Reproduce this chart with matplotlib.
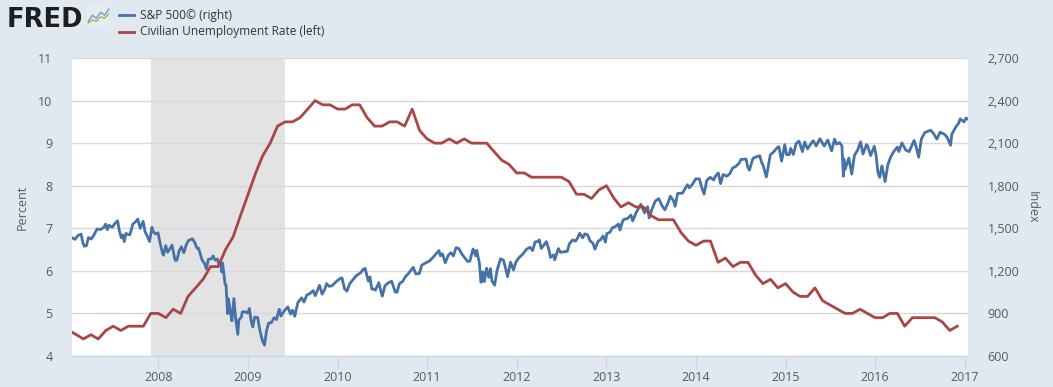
import matplotlib
matplotlib.use("Agg")
import matplotlib.pyplot as plt
import pandas as pd

plt.rcParams['font.family'] = ['Open Sans', 'DejaVu Sans']

# ---------------- data ----------------
unrate_start = "2007-01-01"
unrate_values = [
    4.6, 4.5, 4.4, 4.5, 4.4, 4.6, 4.7, 4.6, 4.7, 4.7, 4.7, 5.0,   # 2007
    5.0, 4.9, 5.1, 5.0, 5.4, 5.6, 5.8, 6.1, 6.1, 6.5, 6.8, 7.3,   # 2008
    7.8, 8.3, 8.7, 9.0, 9.4, 9.5, 9.5, 9.6, 9.8, 10.0, 9.9, 9.9,  # 2009
    9.8, 9.8, 9.9, 9.9, 9.6, 9.4, 9.4, 9.5, 9.5, 9.4, 9.8, 9.3,   # 2010
    9.1, 9.0, 9.0, 9.1, 9.0, 9.1, 9.0, 9.0, 9.0, 8.8, 8.6, 8.5,   # 2011
    8.3, 8.3, 8.2, 8.2, 8.2, 8.2, 8.2, 8.1, 7.8, 7.8, 7.7, 7.9,   # 2012
    8.0, 7.7, 7.5, 7.6, 7.5, 7.5, 7.3, 7.2, 7.2, 7.2, 6.9, 6.7,   # 2013
    6.6, 6.7, 6.7, 6.2, 6.3, 6.1, 6.2, 6.2, 5.9, 5.7, 5.8, 5.6,   # 2014
    5.7, 5.5, 5.4, 5.4, 5.6, 5.3, 5.2, 5.1, 5.0, 5.0, 5.1, 5.0,   # 2015
    4.9, 4.9, 5.0, 5.0, 4.7, 4.9, 4.9, 4.9, 4.9, 4.8, 4.6, 4.7,   # 2016
]

sp_dates = [
    # 2007
    "2007-01-16", "2007-01-26", "2007-02-08", "2007-02-20", "2007-02-27", "2007-03-05", "2007-03-14",
    "2007-03-22", "2007-04-02", "2007-04-12", "2007-04-26", "2007-05-10", "2007-05-24", "2007-05-31",
    "2007-06-07", "2007-06-14", "2007-06-27", "2007-07-06", "2007-07-19", "2007-07-26", "2007-08-03",
    "2007-08-09", "2007-08-15", "2007-08-22", "2007-08-30", "2007-09-07", "2007-09-19", "2007-10-01",
    "2007-10-09", "2007-10-19", "2007-10-31", "2007-11-08", "2007-11-15", "2007-11-26", "2007-12-06",
    "2007-12-11", "2007-12-20", "2007-12-31",
    # 2008
    "2008-01-02", "2008-01-09", "2008-01-18", "2008-01-22", "2008-01-31", "2008-02-08", "2008-02-14",
    "2008-02-26", "2008-03-07", "2008-03-10", "2008-03-17", "2008-03-26", "2008-04-04", "2008-04-14",
    "2008-04-23", "2008-05-02", "2008-05-19", "2008-05-29", "2008-06-06", "2008-06-13", "2008-06-27",
    "2008-07-07", "2008-07-15", "2008-07-23", "2008-08-05", "2008-08-11", "2008-08-20", "2008-08-29",
    "2008-09-05", "2008-09-12", "2008-09-15", "2008-09-19", "2008-09-29", "2008-10-03", "2008-10-09",
    "2008-10-10", "2008-10-13", "2008-10-22", "2008-10-27", "2008-11-04", "2008-11-12", "2008-11-20",
    "2008-11-24", "2008-12-05", "2008-12-08", "2008-12-16", "2008-12-31",
    # 2009
    "2009-01-06", "2009-01-14", "2009-01-20", "2009-01-28", "2009-02-09", "2009-02-17", "2009-02-23",
    "2009-03-02", "2009-03-09", "2009-03-17", "2009-03-26", "2009-04-06", "2009-04-17", "2009-04-27",
    "2009-05-04", "2009-05-08", "2009-05-15", "2009-05-29", "2009-06-12", "2009-06-23", "2009-07-01",
    "2009-07-10", "2009-07-23", "2009-08-07", "2009-08-17", "2009-08-28", "2009-09-11", "2009-09-23",
    "2009-10-02", "2009-10-19", "2009-10-30", "2009-11-09", "2009-11-17", "2009-11-27", "2009-12-09",
    "2009-12-28",
    # 2010
    "2010-01-11", "2010-01-19", "2010-01-29", "2010-02-08", "2010-02-19", "2010-03-05", "2010-03-18",
    "2010-04-05", "2010-04-15", "2010-04-23", "2010-05-06", "2010-05-13", "2010-05-20", "2010-05-25",
    "2010-06-04", "2010-06-18", "2010-06-30", "2010-07-02", "2010-07-13", "2010-07-26", "2010-08-09",
    "2010-08-24", "2010-08-31", "2010-09-10", "2010-09-23", "2010-10-05", "2010-10-18", "2010-11-05",
    "2010-11-16", "2010-11-30", "2010-12-10", "2010-12-29",
    # 2011
    "2011-01-10", "2011-01-27", "2011-02-08", "2011-02-18", "2011-02-24", "2011-03-04", "2011-03-16",
    "2011-03-28", "2011-04-08", "2011-04-18", "2011-04-29", "2011-05-10", "2011-05-23", "2011-06-06",
    "2011-06-15", "2011-06-24", "2011-07-07", "2011-07-18", "2011-07-22", "2011-08-02", "2011-08-08",
    "2011-08-10", "2011-08-16", "2011-08-22", "2011-08-31", "2011-09-09", "2011-09-16", "2011-09-22",
    "2011-10-03", "2011-10-13", "2011-10-27", "2011-11-08", "2011-11-17", "2011-11-25", "2011-12-07",
    "2011-12-19", "2011-12-29",
    # 2012
    "2012-01-10", "2012-01-26", "2012-02-09", "2012-02-24", "2012-03-06", "2012-03-16", "2012-03-30",
    "2012-04-02", "2012-04-10", "2012-04-19", "2012-05-01", "2012-05-10", "2012-05-18", "2012-05-30",
    "2012-06-04", "2012-06-19", "2012-06-28", "2012-07-12", "2012-07-25", "2012-08-03", "2012-08-16",
    "2012-08-28", "2012-09-07", "2012-09-14", "2012-09-26", "2012-10-05", "2012-10-16", "2012-10-26",
    "2012-11-07", "2012-11-15", "2012-11-28", "2012-12-07", "2012-12-18", "2012-12-28",
    # 2013
    "2013-01-02", "2013-01-15", "2013-01-25", "2013-02-05", "2013-02-19", "2013-02-25", "2013-03-08",
    "2013-03-14", "2013-03-28", "2013-04-11", "2013-04-18", "2013-05-03", "2013-05-21", "2013-05-31",
    "2013-06-05", "2013-06-18", "2013-06-24", "2013-07-05", "2013-07-19", "2013-08-02", "2013-08-15",
    "2013-08-27", "2013-09-10", "2013-09-18", "2013-10-01", "2013-10-08", "2013-10-18", "2013-11-07",
    "2013-11-27", "2013-12-05", "2013-12-18", "2013-12-31",
    # 2014
    "2014-01-15", "2014-01-24", "2014-02-03", "2014-02-14", "2014-02-28", "2014-03-14", "2014-03-21",
    "2014-04-02", "2014-04-11", "2014-04-22", "2014-05-07", "2014-05-19", "2014-05-30", "2014-06-13",
    "2014-06-27", "2014-07-03", "2014-07-24", "2014-07-31", "2014-08-07", "2014-08-21", "2014-09-02",
    "2014-09-18", "2014-09-25", "2014-10-01", "2014-10-15", "2014-10-31", "2014-11-14", "2014-11-28",
    "2014-12-05", "2014-12-16", "2014-12-29",
    # 2015
    "2015-01-05", "2015-01-16", "2015-01-22", "2015-02-02", "2015-02-13", "2015-02-25", "2015-03-11",
    "2015-03-20", "2015-04-01", "2015-04-14", "2015-04-24", "2015-05-06", "2015-05-21", "2015-06-08",
    "2015-06-22", "2015-07-08", "2015-07-20", "2015-07-28", "2015-08-10", "2015-08-19", "2015-08-24",
    "2015-08-25", "2015-08-27", "2015-09-01", "2015-09-16", "2015-09-28", "2015-10-09", "2015-10-22",
    "2015-11-03", "2015-11-13", "2015-11-27", "2015-12-02", "2015-12-14", "2015-12-29",
    # 2016
    "2016-01-05", "2016-01-13", "2016-01-20", "2016-01-29", "2016-02-11", "2016-02-22", "2016-03-04",
    "2016-03-17", "2016-04-01", "2016-04-07", "2016-04-20", "2016-05-05", "2016-05-19", "2016-06-08",
    "2016-06-16", "2016-06-27", "2016-07-08", "2016-07-22", "2016-08-15", "2016-08-26", "2016-09-09",
    "2016-09-22", "2016-10-10", "2016-10-21", "2016-11-04", "2016-11-09", "2016-11-25", "2016-12-07",
    "2016-12-13", "2016-12-29",
    # 2017
    "2017-01-06", "2017-01-12",
]

sp_values = [
    # 2007
    1431, 1422, 1450, 1459, 1400, 1374, 1377, 1435, 1424, 1448, 1495, 1491, 1507, 1530,
    1490, 1522, 1506, 1530, 1553, 1482, 1433, 1453, 1406, 1464, 1457, 1454, 1529, 1547,
    1565, 1500, 1549, 1475, 1452, 1407, 1507, 1477, 1461, 1468,
    # 2008
    1447, 1390, 1325, 1310, 1378, 1331, 1348, 1381, 1293, 1273, 1276, 1341, 1370, 1328,
    1380, 1413, 1426, 1398, 1360, 1360, 1278, 1252, 1214, 1282, 1285, 1305, 1275, 1283,
    1242, 1252, 1193, 1255, 1106, 1100, 910, 899, 1003, 896, 848, 1005, 852, 752,
    852, 876, 909, 913, 903,
    # 2009
    935, 842, 805, 874, 870, 789, 743, 700, 677, 778, 833, 835, 870, 857,
    907, 929, 882, 919, 946, 895, 923, 880, 977, 1010, 980, 1029, 1042, 1061,
    1025, 1098, 1036, 1069, 1110, 1091, 1095, 1127,
    # 2010
    1146, 1150, 1074, 1057, 1109, 1138, 1166, 1187, 1211, 1217, 1128, 1157, 1071, 1074,
    1064, 1117, 1031, 1022, 1095, 1115, 1127, 1051, 1049, 1110, 1125, 1160, 1184, 1225,
    1178, 1181, 1240, 1259,
    # 2011
    1269, 1299, 1324, 1343, 1306, 1321, 1257, 1310, 1328, 1305, 1364, 1357, 1317, 1286,
    1266, 1268, 1354, 1306, 1345, 1254, 1120, 1121, 1193, 1124, 1219, 1154, 1216, 1129,
    1099, 1203, 1285, 1276, 1216, 1159, 1261, 1206, 1263,
    # 2012
    1292, 1318, 1351, 1366, 1343, 1404, 1408, 1419, 1358, 1377, 1406, 1358, 1295, 1313,
    1278, 1357, 1330, 1335, 1337, 1391, 1418, 1410, 1437, 1465, 1433, 1461, 1454, 1412,
    1394, 1353, 1409, 1418, 1446, 1402,
    # 2013
    1462, 1472, 1503, 1511, 1530, 1488, 1551, 1563, 1569, 1593, 1552, 1614, 1669, 1631,
    1608, 1652, 1573, 1632, 1692, 1709, 1661, 1630, 1683, 1726, 1695, 1655, 1745, 1748,
    1807, 1785, 1811, 1848,
    # 2014
    1848, 1790, 1741, 1838, 1859, 1841, 1866, 1890, 1815, 1879, 1867, 1885, 1924, 1937,
    1961, 1985, 1988, 1931, 1910, 1992, 2002, 2011, 1966, 1946, 1862, 2018, 2039, 2068,
    2075, 1973, 2090,
    # 2015
    2020, 2019, 2063, 2020, 2096, 2114, 2040, 2108, 2060, 2095, 2117, 2080, 2131, 2080,
    2122, 2046, 2128, 2093, 2104, 2079, 1893, 1867, 1988, 1914, 1995, 1882, 2014, 2052,
    2109, 2023, 2090, 2079, 2012, 2078,
    # 2016
    2016, 1890, 1859, 1940, 1829, 1946, 2000, 2040, 2073, 2041, 2102, 2051, 2040, 2119,
    2077, 2001, 2130, 2175, 2191, 2169, 2128, 2177, 2163, 2141, 2085, 2163, 2213, 2241,
    2271, 2250,
    # 2017
    2277, 2271,
]

recession_start = "2007-12-01"
recession_end = "2009-06-01"

left_ticks = [4, 5, 6, 7, 8, 9, 10, 11]
right_ticks = [600, 900, 1200, 1500, 1800, 2100, 2400, 2700]
right_tick_labels = ["600", "900", "1,200", "1,500", "1,800", "2,100", "2,400", "2,700"]
year_ticks = list(range(2008, 2018))

# ---------------- styling ----------------
BG = "#e1e9f0"
BLUE = "#4572a7"
RED = "#aa4643"
TXT = "#595959"

unrate_dates = pd.date_range(unrate_start, periods=len(unrate_values), freq="MS")
sp_dt = pd.to_datetime(sp_dates)

fig = plt.figure(figsize=(10.53, 3.87), dpi=100, facecolor=BG)
ax2 = fig.add_axes([72 / 1053, 1 - 356 / 387, (968 - 72) / 1053, (356 - 58) / 387])
ax = ax2.twinx()
ax.set_zorder(ax2.get_zorder() + 1)
ax.patch.set_visible(False)
ax2.set_facecolor("white")

# recession shading
ax2.axvspan(pd.Timestamp(recession_start), pd.Timestamp(recession_end),
            color="#e3e3e3", lw=0, zorder=0)

# S&P 500 on right axis
ax2.plot(sp_dt, sp_values, color=BLUE, lw=2.0, zorder=2, solid_joinstyle="round")
ax2.set_ylim(600, 2700)
ax2.set_yticks(right_ticks)
ax2.yaxis.tick_right()
ax2.yaxis.set_label_position("right")
ax2.set_yticklabels(right_tick_labels)
ax2.grid(axis="y", color="#d8d8d8", lw=1, zorder=1)
ax2.set_axisbelow(True)

# Unemployment on left axis
ax.plot(unrate_dates, unrate_values, color=RED, lw=2.0, zorder=3)
ax.set_ylim(4, 11)
ax.set_yticks(left_ticks)
ax.yaxis.tick_left()
ax.yaxis.set_label_position("left")

xmin = pd.Timestamp("2007-01-14")
xmax = pd.Timestamp("2017-01-14")
ax2.set_xlim(xmin, xmax)
ax2.set_xticks([pd.Timestamp(f"{y}-01-01") for y in year_ticks])
ax2.set_xticklabels([str(y) for y in year_ticks])

for a in (ax, ax2):
    for s in a.spines.values():
        s.set_visible(False)
ax2.spines["bottom"].set_visible(True)
ax2.spines["bottom"].set_color("#ccd6eb")
ax2.spines["bottom"].set_linewidth(1)

ax2.tick_params(axis="x", colors="#ccd6eb", length=9, width=1, labelcolor=TXT,
                labelsize=9, pad=2)
ax2.tick_params(axis="y", length=0, labelcolor=TXT, labelsize=9, pad=14)
ax.tick_params(axis="y", length=0, labelcolor=TXT, labelsize=9, pad=14)
ax.tick_params(axis="x", length=0)

ax.set_ylabel("Percent", color=TXT, fontsize=9, labelpad=7)
ax2.set_ylabel("Index", color=TXT, fontsize=9, rotation=270, labelpad=14)

# FRED logo
fig.text(7 / 1053, 1 - 27 / 387, "FRED", fontsize=18.5, fontweight="heavy",
         color="#1e1e1e", ha="left", va="baseline", family=["DejaVu Sans"])
icon = fig.add_axes([87 / 1053, 1 - 26 / 387, 23 / 1053, 20 / 387])
icon.set_facecolor("#e8ecef")
icon.plot([0, 1, 2, 3, 4, 5], [1, 3, 2, 4, 3, 5], color="#6d9cc9", lw=1)
icon.plot([0, 1, 2, 3, 4, 5], [0.5, 1.5, 1, 2.5, 2, 3.5], color="#8fbf5a", lw=1)
icon.set_xlim(-0.3, 5.3)
icon.set_ylim(-0.5, 6)
icon.set_xticks([])
icon.set_yticks([])
for s in icon.spines.values():
    s.set_visible(False)

# legend
fig.lines.append(plt.Line2D([119 / 1053, 134 / 1053], [1 - 15 / 387] * 2,
                            color=BLUE, lw=2, transform=fig.transFigure))
fig.lines.append(plt.Line2D([119 / 1053, 134 / 1053], [1 - 32 / 387] * 2,
                            color=RED, lw=2, transform=fig.transFigure))
fig.text(140 / 1053, 1 - 15 / 387, "S&P 500© (right)", fontsize=8.6, color="#333333",
         va="center", ha="left")
fig.text(140 / 1053, 1 - 32 / 387, "Civilian Unemployment Rate (left)", fontsize=8.6,
         color="#333333", va="center", ha="left")

fig.savefig("out.png", dpi=100, facecolor=BG)
